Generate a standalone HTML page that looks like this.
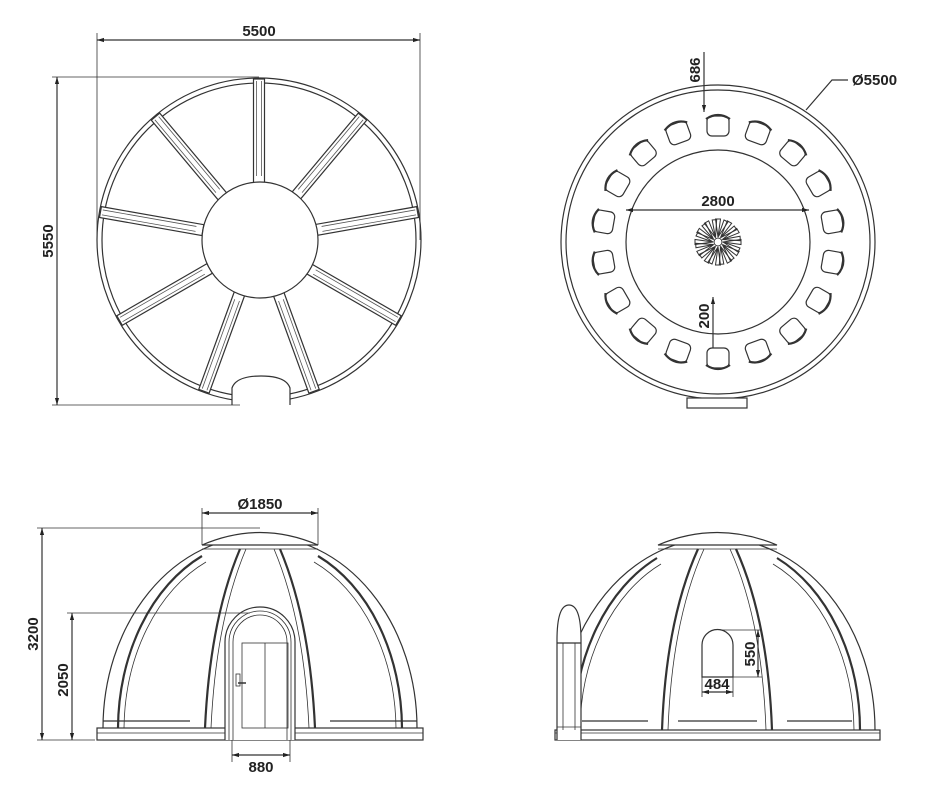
<!DOCTYPE html>
<html><head><meta charset="utf-8"><style>
html,body{margin:0;padding:0;background:#fff;}
svg{display:block;}
text{font-family:"Liberation Sans",sans-serif;font-weight:bold;font-size:15px;fill:#222;}
</style></head><body>
<svg width="941" height="812" viewBox="0 0 941 812" xmlns="http://www.w3.org/2000/svg">
<defs>
<marker id="a" viewBox="0 0 10 10" refX="10" refY="5" markerWidth="6" markerHeight="6" orient="auto-start-reverse"><path d="M0,2 L10,5 L0,8" fill="#222"/></marker>
<g id="spoke">
<rect x="57" y="-5.5" width="104" height="11" fill="#fff" stroke="#333" stroke-width="1.2"/>
<line x1="64" y1="-2.5" x2="159" y2="-2.5" stroke="#555" stroke-width="0.8"/>
<line x1="64" y1="2.5" x2="159" y2="2.5" stroke="#555" stroke-width="0.8"/>
</g>
<g id="chair">
<rect x="-11" y="-9" width="22" height="20" rx="5" fill="#fff" stroke="#333" stroke-width="1.2"/>
<path d="M-12,-6 Q0,-14 12,-6" fill="none" stroke="#333" stroke-width="2.2"/>
</g>
</defs>
<g fill="none" stroke="#333" stroke-width="1.2">
<!-- TOP LEFT PLAN -->
<circle cx="259" cy="240" r="162"/>
<circle cx="259" cy="240" r="157"/>
<g transform="translate(259,240)">
<use href="#spoke" transform="rotate(-90)"/>
<use href="#spoke" transform="rotate(-50)"/>
<use href="#spoke" transform="rotate(-10)"/>
<use href="#spoke" transform="rotate(30)"/>
<use href="#spoke" transform="rotate(70)"/>
<use href="#spoke" transform="rotate(110)"/>
<use href="#spoke" transform="rotate(150)"/>
<use href="#spoke" transform="rotate(190)"/>
<use href="#spoke" transform="rotate(230)"/>
</g>
<circle cx="260" cy="240" r="58" fill="#fff"/>
<path d="M232,405 L232,388 Q236,376 261,376 Q286,376 290,388 L290,405" fill="#fff"/>
<line x1="97" y1="40" x2="420" y2="40" marker-start="url(#a)" marker-end="url(#a)"/>
<line x1="97" y1="33" x2="97" y2="240" stroke-width="0.8"/>
<line x1="420" y1="33" x2="420" y2="240" stroke-width="0.8"/>
<line x1="57" y1="77" x2="57" y2="405" marker-start="url(#a)" marker-end="url(#a)"/>
<line x1="52" y1="77" x2="259" y2="77" stroke-width="0.8"/>
<line x1="52" y1="405" x2="240" y2="405" stroke-width="0.8"/>
<!-- TOP RIGHT PLAN -->
<circle cx="718" cy="242" r="157"/>
<circle cx="718" cy="242" r="152"/>
<circle cx="718" cy="242" r="92"/>
<rect x="687" y="398" width="60" height="10" fill="#fff"/>
<line x1="626" y1="210" x2="809" y2="210" marker-start="url(#a)" marker-end="url(#a)"/>
<line x1="704" y1="52" x2="704" y2="112" marker-end="url(#a)"/>
<line x1="713" y1="297" x2="713" y2="350" marker-start="url(#a)"/>
<polyline points="806,110 832,80 848,80"/>
<g transform="translate(718,242)" stroke-width="1">
<circle r="4"/>
<g id="pet">
<path d="M0,-5 L2.5,-23 L-2.5,-23 Z"/><path d="M0,-5 L10,-20 L6,-22 Z"/>
</g>
<use href="#pet" transform="rotate(30)"/><use href="#pet" transform="rotate(60)"/><use href="#pet" transform="rotate(90)"/>
<use href="#pet" transform="rotate(120)"/><use href="#pet" transform="rotate(150)"/><use href="#pet" transform="rotate(180)"/>
<use href="#pet" transform="rotate(210)"/><use href="#pet" transform="rotate(240)"/><use href="#pet" transform="rotate(270)"/>
<use href="#pet" transform="rotate(300)"/><use href="#pet" transform="rotate(330)"/>
</g>
<!-- BOTTOM LEFT ELEVATION -->
<rect x="97" y="728" width="326" height="12"/>
<line x1="97" y1="733" x2="423" y2="733" stroke-width="0.8"/>
<path d="M103,728 A157,192 0 0 1 417,728"/>
<path d="M118,728 A142,190 0 0 1 202,556" stroke-width="2.2"/>
<path d="M124,728 A136,184 0 0 1 206,562" stroke-width="0.8"/>
<path d="M318,556 A142,190 0 0 1 402,728" stroke-width="2.2"/>
<path d="M314,562 A136,184 0 0 1 396,728" stroke-width="0.8"/>
<path d="M202,545 Q260,520 318,545 Z" fill="#fff"/>
<line x1="202" y1="549" x2="318" y2="549" stroke-width="0.8"/>
<path d="M240,549 Q210,620 205,728" stroke-width="2.2"/>
<path d="M246,549 Q216,620 211,728" stroke-width="0.8"/>
<path d="M280,549 Q310,620 315,728" stroke-width="2.2"/>
<path d="M274,549 Q304,620 309,728" stroke-width="0.8"/>
<line x1="103" y1="721" x2="190" y2="721"/>
<line x1="330" y1="721" x2="417" y2="721"/>
<path d="M225,740 L225,642 A35,35 0 0 1 295,642 L295,740" fill="#fff"/>
<path d="M229,740 L229,642 A31,31 0 0 1 291,642 L291,740" stroke-width="0.8"/>
<path d="M233,740 L233,642 A27,27 0 0 1 287,642 L287,740" stroke-width="0.8"/>
<rect x="242" y="643" width="46" height="85" stroke-width="0.8"/>
<line x1="265" y1="643" x2="265" y2="728" stroke-width="0.8"/>
<rect x="236" y="674" width="4" height="12" stroke-width="0.8"/>
<line x1="238" y1="683" x2="246" y2="683" stroke-width="1.5"/>
<line x1="202" y1="513" x2="318" y2="513" marker-start="url(#a)" marker-end="url(#a)"/>
<line x1="202" y1="508" x2="202" y2="545" stroke-width="0.8"/>
<line x1="318" y1="508" x2="318" y2="545" stroke-width="0.8"/>
<line x1="42" y1="528" x2="42" y2="740" marker-start="url(#a)" marker-end="url(#a)"/>
<line x1="37" y1="528" x2="260" y2="528" stroke-width="0.8"/>
<line x1="37" y1="740" x2="95" y2="740" stroke-width="0.8"/>
<line x1="72" y1="613" x2="72" y2="740" marker-start="url(#a)" marker-end="url(#a)"/>
<line x1="67" y1="613" x2="250" y2="613" stroke-width="0.8"/>
<line x1="232" y1="755" x2="290" y2="755" marker-start="url(#a)" marker-end="url(#a)"/>
<line x1="232" y1="740" x2="232" y2="762" stroke-width="0.8"/>
<line x1="290" y1="740" x2="290" y2="762" stroke-width="0.8"/>
<!-- BOTTOM RIGHT ELEVATION -->
<rect x="555" y="730" width="325" height="10"/>
<line x1="555" y1="733" x2="880" y2="733" stroke-width="0.8"/>
<path d="M559,730 A158,192 0 0 1 875,730"/>
<path d="M574,730 A143,190 0 0 1 657,558" stroke-width="2.2"/>
<path d="M580,730 A137,184 0 0 1 661,564" stroke-width="0.8"/>
<path d="M777,558 A143,190 0 0 1 860,730" stroke-width="2.2"/>
<path d="M773,564 A137,184 0 0 1 854,730" stroke-width="0.8"/>
<path d="M658,545 Q717,520 777,545 Z" fill="#fff"/>
<line x1="658" y1="549" x2="777" y2="549" stroke-width="0.8"/>
<path d="M698,549 Q666,620 662,730" stroke-width="2.2"/>
<path d="M704,549 Q672,620 668,730" stroke-width="0.8"/>
<path d="M736,549 Q768,620 772,730" stroke-width="2.2"/>
<path d="M730,549 Q762,620 766,730" stroke-width="0.8"/>
<line x1="582" y1="721" x2="648" y2="721"/>
<line x1="678" y1="721" x2="757" y2="721"/>
<line x1="787" y1="721" x2="852" y2="721"/>
<path d="M557,740 L557,640 Q557,605 569,605 Q581,605 581,640 L581,740" fill="#fff"/>
<line x1="557" y1="643" x2="581" y2="643"/>
<line x1="563" y1="643" x2="563" y2="730" stroke-width="0.8"/>
<line x1="575" y1="643" x2="575" y2="730" stroke-width="0.8"/>
<line x1="557" y1="727" x2="581" y2="727" stroke-width="0.8"/>
<path d="M702,677 L702,645 A15.5,15.5 0 0 1 733,645 L733,677 Z"/>
<line x1="758" y1="630" x2="758" y2="677" marker-start="url(#a)" marker-end="url(#a)"/>
<line x1="720" y1="630" x2="762" y2="630" stroke-width="0.8"/>
<line x1="733" y1="677" x2="762" y2="677" stroke-width="0.8"/>
<line x1="702" y1="692" x2="733" y2="692" marker-start="url(#a)" marker-end="url(#a)"/>
<line x1="702" y1="677" x2="702" y2="697" stroke-width="0.8"/>
<line x1="733" y1="677" x2="733" y2="697" stroke-width="0.8"/>
</g>
<!-- chairs -->
<g transform="translate(718,242)">
<use href="#chair" transform="rotate(0) translate(0,-117)"/>
<use href="#chair" transform="rotate(20) translate(0,-117)"/>
<use href="#chair" transform="rotate(40) translate(0,-117)"/>
<use href="#chair" transform="rotate(60) translate(0,-117)"/>
<use href="#chair" transform="rotate(80) translate(0,-117)"/>
<use href="#chair" transform="rotate(100) translate(0,-117)"/>
<use href="#chair" transform="rotate(120) translate(0,-117)"/>
<use href="#chair" transform="rotate(140) translate(0,-117)"/>
<use href="#chair" transform="rotate(160) translate(0,-117)"/>
<use href="#chair" transform="rotate(180) translate(0,-117)"/>
<use href="#chair" transform="rotate(200) translate(0,-117)"/>
<use href="#chair" transform="rotate(220) translate(0,-117)"/>
<use href="#chair" transform="rotate(240) translate(0,-117)"/>
<use href="#chair" transform="rotate(260) translate(0,-117)"/>
<use href="#chair" transform="rotate(280) translate(0,-117)"/>
<use href="#chair" transform="rotate(300) translate(0,-117)"/>
<use href="#chair" transform="rotate(320) translate(0,-117)"/>
<use href="#chair" transform="rotate(340) translate(0,-117)"/>
</g>
<!-- text -->
<text x="259" y="36" text-anchor="middle">5500</text>
<text transform="translate(53,241) rotate(-90)" text-anchor="middle">5550</text>
<text x="718" y="206" text-anchor="middle">2800</text>
<text transform="translate(700,70) rotate(-90)" text-anchor="middle">686</text>
<text transform="translate(709,316) rotate(-90)" text-anchor="middle">200</text>
<text x="852" y="85">Ø5500</text>
<text x="260" y="509" text-anchor="middle">Ø1850</text>
<text transform="translate(38,634) rotate(-90)" text-anchor="middle">3200</text>
<text transform="translate(68,680) rotate(-90)" text-anchor="middle">2050</text>
<text x="261" y="772" text-anchor="middle">880</text>
<text transform="translate(755,654) rotate(-90)" text-anchor="middle">550</text>
<text x="717" y="689" text-anchor="middle">484</text>
</svg>
</body></html>
